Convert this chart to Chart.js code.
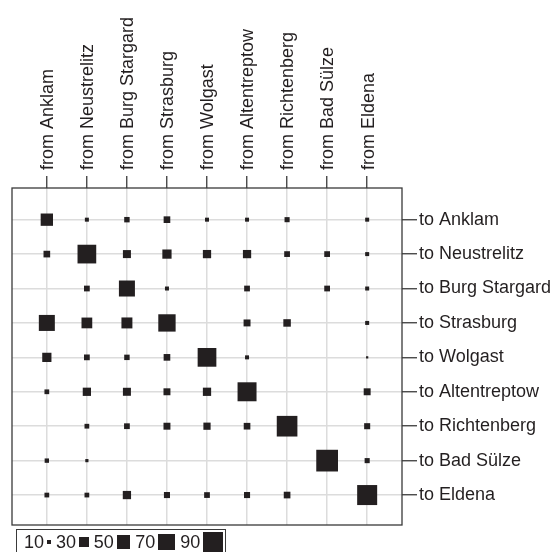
<!DOCTYPE html>
<html>
<head>
<meta charset="utf-8">
<script src="https://cdn.jsdelivr.net/npm/chart.js@4"></script>
<style>
  html, body { margin: 0; padding: 0; background: #fff; overflow: hidden; }
  #wrap { position: relative; width: 553px; height: 552px; }
  #legend {
    position: absolute; left: 16px; top: 529px; width: 210px; height: 30px;
    border: 1.3px solid #3a3a3a; box-sizing: border-box;
    display: flex; align-items: flex-start; padding: 1px 0 0 7px; gap: 5px;
    font: 18px "Liberation Sans", Arial, sans-serif; color: #231f20;
  }
  #legend .item { display: flex; align-items: center; gap: 3px; height: 22px; }
  #legend .sq { background: #231f20; display: inline-block; }
</style>
</head>
<body>
<div id="wrap">
  <canvas id="chart"></canvas>
  <div id="legend"></div>
</div>
<script>
// 迁移矩阵：行 = to，列 = from
const fromLabels = ["from Anklam", "from Neustrelitz", "from Burg Stargard", "from Strasburg", "from Wolgast",
                    "from Altentreptow", "from Richtenberg", "from Bad Sülze", "from Eldena"];
const toLabels = ["to Anklam", "to Neustrelitz", "to Burg Stargard", "to Strasburg", "to Wolgast",
                  "to Altentreptow", "to Richtenberg", "to Bad Sülze", "to Eldena"];

const toAnklam       = [43, 10, 14, 18, 10, 10, 13, 0, 10];
const toNeustrelitz  = [18, 84, 23, 28, 24, 24, 15, 15, 10];
const toBurgStargard = [0, 15, 65, 10, 0, 15, 0, 15, 10];
const toStrasburg    = [65, 35, 36, 74, 0, 19, 21, 0, 10];
const toWolgast      = [28, 15, 14, 18, 84, 10, 0, 0, 6];
const toAltentreptow = [12, 24, 23, 19, 24, 86, 0, 0, 19];
const toRichtenberg  = [0, 12, 15, 19, 20, 18, 99, 0, 16];
const toBadSuelze    = [11, 8, 0, 0, 0, 0, 0, 108, 13];
const toEldena       = [12, 12, 24, 16, 15, 16, 18, 0, 94];

const legendValues = [10, 30, 50, 70, 90];

const rows = [toAnklam, toNeustrelitz, toBurgStargard, toStrasburg, toWolgast,
              toAltentreptow, toRichtenberg, toBadSuelze, toEldena];

// 边长（像素）随数值变化
function side(v) {
    return Math.max(0, 2.45 * Math.sqrt(v) - 3.74);
}

const points = [];
rows.forEach((row, r) => {
    row.forEach((v, c) => {
        if (v > 0) points.push({ x: c, y: r, v: v });
    });
});

const FONT = { family: '"Liberation Sans", Arial, sans-serif', size: 18 };
const INK = '#231f20';

const frame = {
    id: 'frame',
    afterDraw(chart) {
        const a = chart.chartArea, ctx = chart.ctx;
        ctx.save();
        ctx.strokeStyle = '#3a3a3a';
        ctx.lineWidth = 1.3;
        ctx.strokeRect(a.left, a.top, a.right - a.left, a.bottom - a.top);
        ctx.restore();
    }
};

new Chart(document.getElementById('chart'), {
    type: 'scatter',
    data: {
        datasets: [{
            data: points,
            pointStyle: 'rect',
            backgroundColor: INK,
            borderWidth: 0,
            pointRadius: ctx => side(ctx.raw.v) / Math.SQRT2,
            pointHoverRadius: ctx => side(ctx.raw.v) / Math.SQRT2
        }]
    },
    options: {
        responsive: true,
        maintainAspectRatio: false,
        animation: false,
        events: [],
        layout: { autoPadding: false, padding: { left: 12, right: 0, top: 0, bottom: 27 } },
        plugins: { legend: { display: false }, tooltip: { enabled: false } },
        scales: {
            x: {
                type: 'linear', position: 'top', min: -0.87, max: 8.87,
                afterBuildTicks: s => { s.ticks = fromLabels.map((_, i) => ({ value: i })); },
                afterFit: s => { s.height = 188; s.paddingLeft = 0; s.paddingRight = 0; },
                ticks: {
                    callback: v => fromLabels[Math.round(v)],
                    minRotation: 90, maxRotation: 90, autoSkip: false,
                    font: FONT, color: INK, padding: 6, labelOffset: 23
                },
                grid: { color: '#dcdcdc', lineWidth: 1.5, tickLength: 12, tickColor: '#3a3a3a', tickWidth: 1.3 },
                border: { display: false }
            },
            y: {
                type: 'linear', position: 'right', reverse: true, min: -0.92, max: 8.87,
                afterBuildTicks: s => { s.ticks = toLabels.map((_, i) => ({ value: i })); },
                afterFit: s => { s.width = 151; },
                ticks: {
                    callback: v => toLabels[Math.round(v)],
                    autoSkip: false, font: FONT, color: INK, padding: 2
                },
                grid: { color: '#dcdcdc', lineWidth: 1.5, tickLength: 15, tickColor: '#3a3a3a', tickWidth: 1.3 },
                border: { display: false }
            }
        }
    },
    plugins: [frame]
});

// 图例
const legend = document.getElementById('legend');
legendValues.forEach(v => {
    const s = side(v);
    legend.innerHTML += `<span class="item"><span>${v}</span><span class="sq" style="width:${s}px;height:${s}px"></span></span>`;
});
</script>
</body>
</html>
